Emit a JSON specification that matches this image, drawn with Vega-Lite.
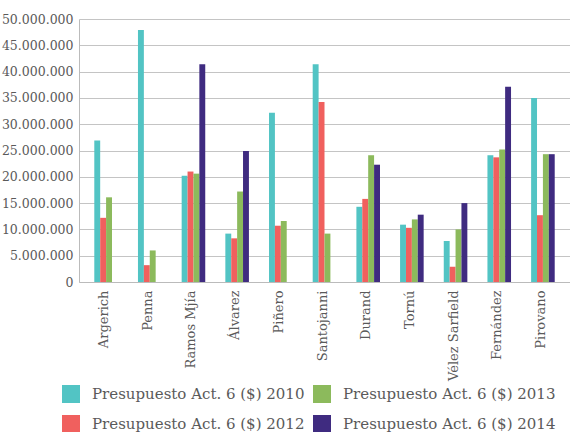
{
  "$schema": "https://vega.github.io/schema/vega-lite/v6.json",
  "width": 491,
  "height": 263,
  "autosize": {"type": "none"},
  "padding": {"left": 79, "top": 19, "right": 0, "bottom": 150},
  "config": {
    "locale": {"number": {"decimal": ",", "thousands": ".", "grouping": [3], "currency": ["$", ""]}},
    "view": {"stroke": null},
    "font": "DejaVu Serif"
  },
  "data": {
    "values": [
      {"hospital": "Argerich", "serie": "Presupuesto Act. 6 ($) 2010", "valor": 26900000},
      {"hospital": "Argerich", "serie": "Presupuesto Act. 6 ($) 2012", "valor": 12200000},
      {"hospital": "Argerich", "serie": "Presupuesto Act. 6 ($) 2013", "valor": 16100000},
      {"hospital": "Penna", "serie": "Presupuesto Act. 6 ($) 2010", "valor": 47900000},
      {"hospital": "Penna", "serie": "Presupuesto Act. 6 ($) 2012", "valor": 3200000},
      {"hospital": "Penna", "serie": "Presupuesto Act. 6 ($) 2013", "valor": 6000000},
      {"hospital": "Ramos Mjía", "serie": "Presupuesto Act. 6 ($) 2010", "valor": 20200000},
      {"hospital": "Ramos Mjía", "serie": "Presupuesto Act. 6 ($) 2012", "valor": 21000000},
      {"hospital": "Ramos Mjía", "serie": "Presupuesto Act. 6 ($) 2013", "valor": 20600000},
      {"hospital": "Ramos Mjía", "serie": "Presupuesto Act. 6 ($) 2014", "valor": 41400000},
      {"hospital": "Álvarez", "serie": "Presupuesto Act. 6 ($) 2010", "valor": 9200000},
      {"hospital": "Álvarez", "serie": "Presupuesto Act. 6 ($) 2012", "valor": 8300000},
      {"hospital": "Álvarez", "serie": "Presupuesto Act. 6 ($) 2013", "valor": 17200000},
      {"hospital": "Álvarez", "serie": "Presupuesto Act. 6 ($) 2014", "valor": 24900000},
      {"hospital": "Piñero", "serie": "Presupuesto Act. 6 ($) 2010", "valor": 32200000},
      {"hospital": "Piñero", "serie": "Presupuesto Act. 6 ($) 2012", "valor": 10700000},
      {"hospital": "Piñero", "serie": "Presupuesto Act. 6 ($) 2013", "valor": 11600000},
      {"hospital": "Santojanni", "serie": "Presupuesto Act. 6 ($) 2010", "valor": 41400000},
      {"hospital": "Santojanni", "serie": "Presupuesto Act. 6 ($) 2012", "valor": 34200000},
      {"hospital": "Santojanni", "serie": "Presupuesto Act. 6 ($) 2013", "valor": 9200000},
      {"hospital": "Durand", "serie": "Presupuesto Act. 6 ($) 2010", "valor": 14300000},
      {"hospital": "Durand", "serie": "Presupuesto Act. 6 ($) 2012", "valor": 15800000},
      {"hospital": "Durand", "serie": "Presupuesto Act. 6 ($) 2013", "valor": 24100000},
      {"hospital": "Durand", "serie": "Presupuesto Act. 6 ($) 2014", "valor": 22300000},
      {"hospital": "Tornú", "serie": "Presupuesto Act. 6 ($) 2010", "valor": 10900000},
      {"hospital": "Tornú", "serie": "Presupuesto Act. 6 ($) 2012", "valor": 10300000},
      {"hospital": "Tornú", "serie": "Presupuesto Act. 6 ($) 2013", "valor": 11900000},
      {"hospital": "Tornú", "serie": "Presupuesto Act. 6 ($) 2014", "valor": 12800000},
      {"hospital": "Vélez Sarfield", "serie": "Presupuesto Act. 6 ($) 2010", "valor": 7800000},
      {"hospital": "Vélez Sarfield", "serie": "Presupuesto Act. 6 ($) 2012", "valor": 2900000},
      {"hospital": "Vélez Sarfield", "serie": "Presupuesto Act. 6 ($) 2013", "valor": 10000000},
      {"hospital": "Vélez Sarfield", "serie": "Presupuesto Act. 6 ($) 2014", "valor": 15000000},
      {"hospital": "Fernández", "serie": "Presupuesto Act. 6 ($) 2010", "valor": 24100000},
      {"hospital": "Fernández", "serie": "Presupuesto Act. 6 ($) 2012", "valor": 23700000},
      {"hospital": "Fernández", "serie": "Presupuesto Act. 6 ($) 2013", "valor": 25200000},
      {"hospital": "Fernández", "serie": "Presupuesto Act. 6 ($) 2014", "valor": 37100000},
      {"hospital": "Pirovano", "serie": "Presupuesto Act. 6 ($) 2010", "valor": 35000000},
      {"hospital": "Pirovano", "serie": "Presupuesto Act. 6 ($) 2012", "valor": 12700000},
      {"hospital": "Pirovano", "serie": "Presupuesto Act. 6 ($) 2013", "valor": 24300000},
      {"hospital": "Pirovano", "serie": "Presupuesto Act. 6 ($) 2014", "valor": 24300000}
    ]
  },
  "mark": {"type": "bar"},
  "encoding": {
    "x": {
      "field": "hospital",
      "type": "nominal",
      "sort": null,
      "scale": {"paddingInner": 0.46, "paddingOuter": 0.35},
      "axis": {
        "title": null,
        "labelAngle": -90,
        "labelFontSize": 13,
        "labelColor": "#5a5a5a",
        "labelFont": "DejaVu Serif",
        "ticks": false,
        "labelPadding": 8,
        "domainColor": "#bbbbbb",
        "labelOffset": -2
      }
    },
    "xOffset": {
      "field": "serie",
      "type": "nominal",
      "sort": ["Presupuesto Act. 6 ($) 2010", "Presupuesto Act. 6 ($) 2012", "Presupuesto Act. 6 ($) 2013", "Presupuesto Act. 6 ($) 2014"],
      "scale": {"paddingInner": 0, "paddingOuter": 0}
    },
    "y": {
      "field": "valor",
      "type": "quantitative",
      "scale": {"domain": [0, 50000000]},
      "axis": {
        "title": null,
        "values": [0, 5000000, 10000000, 15000000, 20000000, 25000000, 30000000, 35000000, 40000000, 45000000, 50000000],
        "format": ",d",
        "grid": true,
        "gridColor": "#c4c4c4",
        "gridWidth": 1.2,
        "domainColor": "#bbbbbb",
        "ticks": false,
        "labelFontSize": 12.5,
        "labelColor": "#5a5a5a",
        "labelFont": "DejaVu Serif",
        "labelPadding": 6
      }
    },
    "color": {
      "field": "serie",
      "type": "nominal",
      "scale": {
        "domain": ["Presupuesto Act. 6 ($) 2010", "Presupuesto Act. 6 ($) 2012", "Presupuesto Act. 6 ($) 2013", "Presupuesto Act. 6 ($) 2014"],
        "range": ["#52C4C4", "#F0605E", "#8CBA5C", "#3F2B80"]
      },
      "legend": {
        "title": null,
        "orient": "none",
        "legendX": -17,
        "legendY": 366,
        "columns": 2,
        "symbolType": "square",
        "symbolSize": 324,
        "symbolStrokeWidth": 0,
        "symbolOpacity": 1,
        "labelFontSize": 15,
        "labelColor": "#5a5a5a",
        "labelFont": "DejaVu Serif",
        "labelOffset": 12,
        "labelLimit": 300,
        "rowPadding": 12,
        "columnPadding": 8
      }
    }
  }
}
